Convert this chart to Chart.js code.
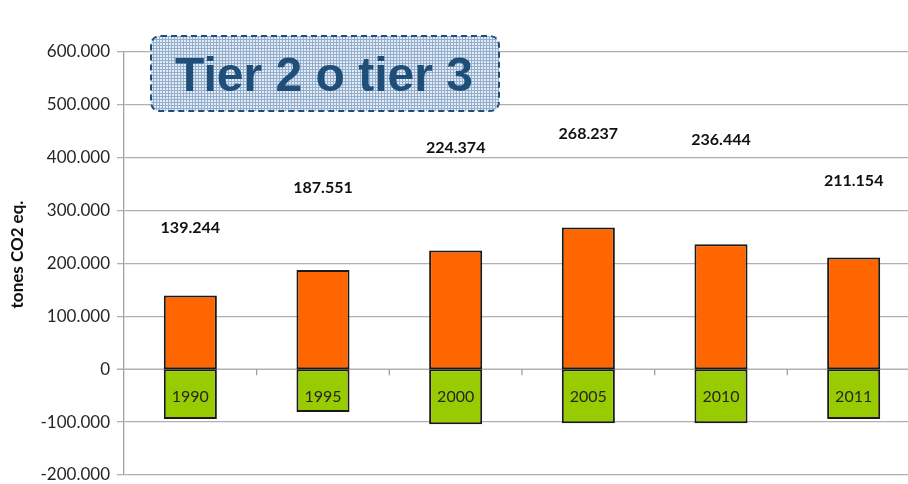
<!DOCTYPE html>
<html>
<head>
<meta charset="utf-8">
<script src="https://cdn.jsdelivr.net/npm/chart.js"></script>
<style>
  html, body { margin: 0; padding: 0; background: #fff; overflow: hidden; }
  #wrap { position: relative; width: 922px; height: 484px; }
</style>
</head>
<body>
<div id="wrap"><canvas id="c"></canvas></div>
<script>
// data
const years = ['1990', '1995', '2000', '2005', '2010', '2011'];
const emissions = [139244, 187551, 224374, 268237, 236444, 211154];
const removals = [-94000, -81000, -104000, -102000, -102000, -94000];
// where the bold value labels sit, in axis units
const valueLabelY = [267000, 343000, 418000, 446000, 433000, 357000];
const yTicks = [-200000, -100000, 0, 100000, 200000, 300000, 400000, 500000, 600000];
const titleText = 'Tier 2 o tier 3';
const yAxisTitle = 'tones CO2 eq.';

const GRID = '#b0b0b0';

function fmt(v) {
  const s = Math.abs(Math.round(v)).toString().replace(/\B(?=(\d{3})+(?!\d))/g, '.');
  return (v < 0 ? '-' : '') + s;
}

// little grid pattern for the title box
function makePattern(ctx) {
  const p = document.createElement('canvas');
  p.width = 3; p.height = 3;
  const pc = p.getContext('2d');
  pc.fillStyle = '#e2eaf4';
  pc.fillRect(0, 0, 3, 3);
  pc.fillStyle = '#94afcd';
  pc.fillRect(0, 0, 3, 1);
  pc.fillRect(0, 0, 1, 3);
  return ctx.createPattern(p, 'repeat');
}

function roundRect(ctx, x, y, w, h, r) {
  ctx.beginPath();
  ctx.moveTo(x + r, y);
  ctx.lineTo(x + w - r, y);
  ctx.quadraticCurveTo(x + w, y, x + w, y + r);
  ctx.lineTo(x + w, y + h - r);
  ctx.quadraticCurveTo(x + w, y + h, x + w - r, y + h);
  ctx.lineTo(x + r, y + h);
  ctx.quadraticCurveTo(x, y + h, x, y + h - r);
  ctx.lineTo(x, y + r);
  ctx.quadraticCurveTo(x, y, x + r, y);
  ctx.closePath();
}

const extras = {
  id: 'extras',
  beforeDatasetsDraw(chart) {
    // zero line drawn here so the bars meet at it without a gap
    const ctx = chart.ctx;
    const y0 = chart.scales.y.getPixelForValue(0);
    ctx.save();
    ctx.strokeStyle = GRID;
    ctx.lineWidth = 1.3;
    ctx.beginPath();
    ctx.moveTo(chart.chartArea.left - 7, y0);
    ctx.lineTo(chart.chartArea.right, y0);
    ctx.stroke();
    ctx.restore();
  },
  afterDatasetsDraw(chart) {
    const ctx = chart.ctx;
    const x = chart.scales.x, y = chart.scales.y;
    const y0 = y.getPixelForValue(0);
    ctx.save();
    // category boundary ticks on the zero line
    ctx.strokeStyle = '#a0a0a0';
    ctx.lineWidth = 1.3;
    for (let i = 1; i < years.length; i++) {
      const bx = (x.getPixelForValue(i - 1) + x.getPixelForValue(i)) / 2;
      ctx.beginPath();
      ctx.moveTo(bx, y0);
      ctx.lineTo(bx, y0 + 6);
      ctx.stroke();
    }
    // year labels inside the green bars
    ctx.fillStyle = '#262626';
    ctx.font = '16px Lato';
    ctx.textAlign = 'center';
    ctx.textBaseline = 'middle';
    years.forEach((yr, i) => {
      ctx.fillText(yr, x.getPixelForValue(i), y0 + 28);
    });
    // bold totals
    ctx.fillStyle = '#111';
    ctx.font = 'bold 16px Lato';
    emissions.forEach((v, i) => {
      ctx.fillText(fmt(v), x.getPixelForValue(i), y.getPixelForValue(valueLabelY[i]));
    });
    // y axis title
    ctx.save();
    ctx.translate(18, (chart.chartArea.top + chart.chartArea.bottom) / 2 - 9);
    ctx.rotate(-Math.PI / 2);
    ctx.font = 'bold 17px Lato';
    ctx.fillText(yAxisTitle, 0, 0);
    ctx.restore();
    // title box
    ctx.fillStyle = makePattern(ctx);
    roundRect(ctx, 151, 36, 348, 75, 10);
    ctx.fill();
    ctx.setLineDash([6, 4]);
    ctx.strokeStyle = '#1f4e79';
    ctx.lineWidth = 2;
    ctx.stroke();
    ctx.setLineDash([]);
    ctx.fillStyle = '#1f4e79';
    ctx.font = 'bold 48px "Liberation Sans"';
    ctx.textBaseline = 'alphabetic';
    ctx.fillText(titleText, 324, 91);
    ctx.restore();
  }
};

new Chart(document.getElementById('c'), {
  type: 'bar',
  data: {
    labels: years,
    datasets: [
      {
        data: emissions,
        backgroundColor: '#ff6600',
        borderColor: '#1a1a1a',
        borderWidth: 2,
        borderSkipped: false,
        categoryPercentage: 1,
        barPercentage: 0.4
      },
      {
        data: removals,
        backgroundColor: '#99cc00',
        borderColor: '#1a1a1a',
        borderWidth: 2,
        borderSkipped: false,
        categoryPercentage: 1,
        barPercentage: 0.4
      }
    ]
  },
  options: {
    responsive: true,
    maintainAspectRatio: false,
    animation: false,
    layout: { padding: { left: 0, right: 2, top: 52, bottom: 9 } },
    plugins: { legend: { display: false }, tooltip: { enabled: false } },
    scales: {
      x: {
        stacked: true,
        display: false
      },
      y: {
        stacked: true,
        min: -200000,
        max: 600000,
        afterBuildTicks: (s) => { s.ticks = yTicks.map(v => ({ value: v })); },
        afterFit: (s) => { s.width = 124; s.paddingTop = 0; s.paddingBottom = 0; },
        grid: {
          color: GRID,
          lineWidth: (c) => (c.tick && c.tick.value === 0 ? 0 : 1.3),
          tickLength: 7
        },
        border: { display: true, color: '#a0a0a0', width: 1.3 },
        ticks: {
          color: '#262626',
          font: { family: 'Lato', size: 17 },
          padding: 7,
          callback: (v) => fmt(v)
        }
      }
    }
  },
  plugins: [extras]
});
</script>
</body>
</html>
